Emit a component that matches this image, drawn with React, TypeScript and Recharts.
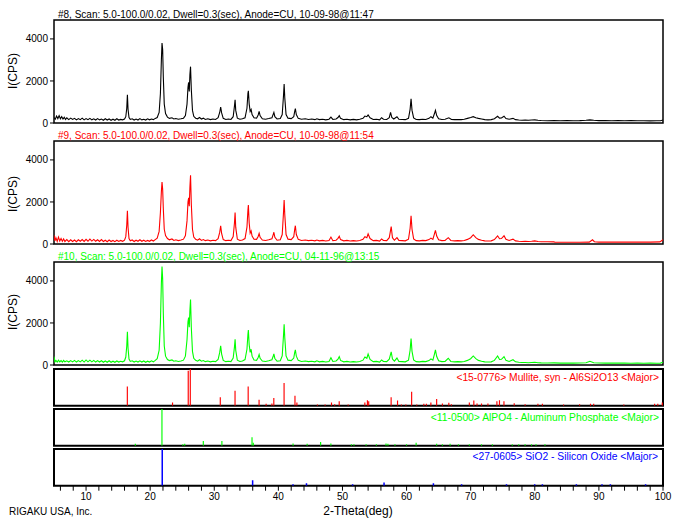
import React from "react";
import { ComposedChart, Line, Bar, XAxis, YAxis, ReferenceArea } from "recharts";

const FONT = '"Liberation Sans", Arial, sans-serif';

// 2-theta range and tick marks along the bottom
const thetaDomain: [number, number] = [5, 100];
const thetaTicks = [
  6, 8, 10, 12, 14, 16, 18, 20, 22, 24, 26, 28, 30, 32, 34, 36, 38, 40, 42, 44, 46, 48, 50,
  52, 54, 56, 58, 60, 62, 64, 66, 68, 70, 72, 74, 76, 78, 80, 82, 84, 86, 88, 90, 92, 94, 96,
  98, 100,
];
const cpsTicks = [0, 2000, 4000];
const cpsMax = 4900;

const titles = [
  "#8, Scan: 5.0-100.0/0.02, Dwell=0.3(sec), Anode=CU, 10-09-98@11:47",
  "#9, Scan: 5.0-100.0/0.02, Dwell=0.3(sec), Anode=CU, 10-09-98@11:54",
  "#10, Scan: 5.0-100.0/0.02, Dwell=0.3(sec), Anode=CU, 04-11-96@13:15",
];
const refLabels = [
  "<15-0776> Mullite, syn - Al6Si2O13 <Major>",
  "<11-0500> AlPO4 - Aluminum Phosphate <Major>",
  "<27-0605> SiO2 - Silicon Oxide <Major>",
];

// scan #8 (black): [2-theta, cps]
const scan8: [number, number][] = [
  [5.0, 260], [5.2, 180], [5.4, 330], [5.6, 210], [5.8, 350], [6.0, 200], [6.2, 300], [6.4, 190],
  [6.6, 270], [6.8, 170], [7.0, 250], [7.3, 160], [7.6, 230], [7.9, 170], [8.2, 220], [8.5, 150],
  [8.8, 210], [9.1, 160], [9.4, 230], [9.7, 150], [10.0, 210], [10.3, 160], [10.6, 220], [10.9, 150],
  [11.2, 200], [11.5, 140], [11.8, 210], [12.1, 150], [12.4, 190], [12.7, 130], [13.0, 200], [13.3, 140],
  [13.6, 190], [13.9, 130], [14.2, 180], [14.5, 130], [14.8, 200], [15.1, 140], [15.4, 170], [15.7, 150],
  [16.0, 190], [16.2, 300], [16.35, 700], [16.45, 1340], [16.55, 650], [16.7, 260], [16.9, 170], [17.2, 200],
  [17.5, 140], [17.8, 190], [18.1, 140], [18.4, 210], [18.7, 150], [19.0, 180], [19.3, 140], [19.6, 200],
  [19.9, 150], [20.2, 190], [20.5, 160], [20.8, 220], [21.1, 260], [21.4, 500], [21.6, 1400], [21.75, 3000],
  [21.85, 3800], [21.95, 3500], [22.05, 2200], [22.2, 900], [22.4, 450], [22.7, 280], [23.0, 220], [23.4, 250],
  [23.7, 190], [24.0, 210], [24.4, 180], [24.8, 200], [25.2, 230], [25.5, 350], [25.75, 900], [25.9, 1700],
  [26.0, 1930], [26.1, 1500], [26.2, 2300], [26.3, 2680], [26.42, 1600], [26.6, 600], [26.8, 320], [27.1, 230],
  [27.4, 200], [27.7, 260], [28.0, 190], [28.3, 230], [28.6, 170], [29.0, 200], [29.4, 160], [29.8, 190],
  [30.2, 170], [30.6, 250], [30.85, 500], [31.0, 760], [31.15, 480], [31.4, 220], [31.8, 170], [32.2, 190],
  [32.6, 170], [32.95, 300], [33.15, 800], [33.25, 1100], [33.35, 600], [33.6, 230], [34.0, 180], [34.4, 200],
  [34.8, 250], [35.1, 700], [35.25, 1400], [35.32, 1530], [35.45, 900], [35.6, 550], [35.75, 640], [35.9, 400],
  [36.2, 250], [36.6, 230], [36.85, 380], [37.0, 550], [37.15, 350], [37.5, 200], [38.0, 180], [38.5, 210],
  [39.0, 250], [39.2, 420], [39.3, 500], [39.45, 300], [39.8, 190], [40.3, 210], [40.6, 400], [40.8, 1300],
  [40.9, 1850], [41.0, 1200], [41.2, 400], [41.5, 230], [42.0, 210], [42.4, 300], [42.55, 550], [42.65, 690],
  [42.8, 400], [43.1, 220], [43.6, 180], [44.2, 200], [44.7, 170], [45.2, 190], [45.7, 160], [46.0, 200],
  [46.4, 160], [46.9, 180], [47.4, 150], [47.9, 180], [48.2, 280], [48.5, 170], [49.0, 190], [49.3, 260],
  [49.5, 350], [49.7, 220], [50.2, 160], [50.7, 180], [51.2, 150], [51.7, 170], [52.2, 150], [52.7, 180],
  [53.2, 220], [53.5, 330], [53.8, 300], [54.0, 380], [54.3, 250], [54.8, 170], [55.3, 180], [55.8, 150],
  [56.1, 250], [56.4, 180], [56.9, 170], [57.3, 250], [57.5, 500], [57.7, 260], [58.0, 190], [58.5, 300],
  [58.8, 180], [59.3, 170], [59.8, 160], [60.3, 220], [60.55, 650], [60.7, 1150], [60.85, 600], [61.1, 240],
  [61.5, 170], [62.0, 160], [62.5, 180], [63.0, 170], [63.5, 220], [63.8, 300], [64.1, 230], [64.35, 450],
  [64.5, 600], [64.7, 350], [65.0, 200], [65.5, 170], [66.0, 180], [66.6, 250], [67.0, 170], [67.5, 160],
  [68.0, 170], [68.5, 160], [69.0, 180], [69.5, 220], [70.0, 260], [70.4, 300], [70.8, 250], [71.2, 220],
  [71.7, 190], [72.2, 160], [72.7, 150], [73.2, 160], [73.7, 200], [74.2, 320], [74.5, 230], [74.8, 240],
  [75.2, 320], [75.5, 210], [76.0, 180], [76.6, 220], [77.0, 160], [77.5, 140], [78.0, 130], [78.5, 140],
  [79.0, 130], [79.5, 140], [80.0, 150], [80.5, 130], [81.0, 120], [82.0, 110], [83.0, 120], [84.0, 110],
  [85.0, 120], [86.0, 110], [87.0, 115], [88.0, 130], [88.6, 150], [89.2, 130], [90.0, 115], [91.0, 120],
  [92.0, 110], [93.0, 120], [94.0, 110], [95.0, 115], [96.0, 105], [97.0, 110], [98.0, 100], [99.0, 105],
  [99.6, 110], [100.0, 140],
];

// scan #9 (red)
const scan9: [number, number][] = [
  [5.0, 420], [5.15, 150], [5.3, 300], [5.5, 120], [5.7, 330], [5.9, 140], [6.1, 260], [6.3, 130],
  [6.5, 240], [6.7, 120], [7.0, 210], [7.3, 110], [7.6, 200], [7.9, 120], [8.2, 190], [8.5, 110],
  [8.8, 200], [9.1, 130], [9.4, 210], [9.7, 120], [10.0, 220], [10.3, 130], [10.6, 230], [10.9, 140],
  [11.2, 220], [11.5, 130], [11.8, 200], [12.1, 120], [12.4, 210], [12.7, 120], [13.0, 180], [13.3, 110],
  [13.6, 190], [13.9, 120], [14.2, 170], [14.5, 110], [14.8, 180], [15.1, 120], [15.4, 170], [15.7, 130],
  [16.0, 180], [16.2, 350], [16.35, 900], [16.45, 1580], [16.55, 800], [16.7, 260], [16.9, 150], [17.2, 190],
  [17.5, 120], [17.8, 180], [18.1, 130], [18.4, 200], [18.7, 130], [19.0, 180], [19.3, 120], [19.6, 170],
  [19.9, 130], [20.2, 190], [20.5, 140], [20.8, 210], [21.1, 280], [21.4, 600], [21.6, 1500], [21.75, 2500],
  [21.85, 2950], [21.95, 2600], [22.05, 1700], [22.2, 700], [22.4, 400], [22.7, 260], [23.0, 200], [23.4, 240],
  [23.7, 170], [24.0, 200], [24.4, 160], [24.8, 190], [25.2, 230], [25.5, 400], [25.75, 1100], [25.9, 2000],
  [26.0, 2200], [26.1, 1800], [26.2, 2700], [26.3, 3270], [26.42, 1900], [26.6, 700], [26.8, 330], [27.1, 220],
  [27.4, 180], [27.7, 250], [28.0, 170], [28.3, 210], [28.6, 160], [29.0, 190], [29.4, 150], [29.8, 180],
  [30.2, 160], [30.6, 250], [30.85, 550], [31.0, 870], [31.15, 500], [31.4, 210], [31.8, 160], [32.2, 180],
  [32.6, 160], [32.95, 350], [33.15, 1000], [33.25, 1500], [33.35, 800], [33.6, 230], [34.0, 170], [34.4, 190],
  [34.8, 260], [35.1, 800], [35.25, 1600], [35.32, 1850], [35.45, 1000], [35.6, 520], [35.75, 620], [35.9, 380],
  [36.2, 230], [36.6, 220], [36.85, 360], [37.0, 500], [37.15, 320], [37.5, 190], [38.0, 170], [38.5, 200],
  [39.0, 250], [39.2, 450], [39.3, 560], [39.45, 320], [39.8, 180], [40.3, 200], [40.6, 450], [40.8, 1500],
  [40.9, 2090], [41.0, 1400], [41.2, 450], [41.5, 230], [42.0, 210], [42.4, 350], [42.55, 700], [42.65, 870],
  [42.8, 450], [43.1, 220], [43.6, 170], [44.2, 190], [44.7, 160], [45.2, 180], [45.7, 150], [46.0, 190],
  [46.4, 150], [46.9, 170], [47.4, 140], [47.9, 170], [48.2, 330], [48.5, 160], [49.0, 180], [49.3, 270],
  [49.5, 370], [49.7, 210], [50.2, 150], [50.7, 170], [51.2, 140], [51.7, 160], [52.2, 140], [52.7, 170],
  [53.2, 220], [53.5, 350], [53.8, 300], [54.0, 480], [54.3, 260], [54.8, 160], [55.3, 170], [55.8, 140],
  [56.1, 240], [56.4, 170], [56.9, 160], [57.3, 300], [57.6, 830], [57.8, 300], [58.1, 180], [58.5, 300],
  [58.8, 170], [59.3, 160], [59.8, 150], [60.3, 230], [60.55, 750], [60.7, 1340], [60.85, 700], [61.1, 240],
  [61.5, 160], [62.0, 150], [62.5, 170], [63.0, 160], [63.5, 210], [63.8, 280], [64.1, 220], [64.35, 480],
  [64.5, 650], [64.7, 380], [65.0, 200], [65.5, 160], [66.0, 170], [66.5, 300], [66.9, 170], [67.5, 150],
  [68.0, 160], [68.5, 150], [69.0, 170], [69.5, 220], [70.0, 300], [70.4, 440], [70.8, 300], [71.2, 220],
  [71.7, 180], [72.2, 150], [72.7, 140], [73.2, 150], [73.7, 210], [74.2, 390], [74.5, 250], [74.8, 260],
  [75.2, 390], [75.5, 220], [76.0, 170], [76.6, 230], [77.0, 150], [77.5, 130], [78.0, 120], [78.5, 130],
  [79.0, 120], [79.5, 130], [80.0, 150], [80.5, 120], [81.0, 110], [82.0, 105], [83.0, 100], [83.1, 80],
  [85.0, 80], [87.0, 80], [88.5, 90], [89.0, 200], [89.3, 110], [90.0, 90], [92.0, 90], [94.0, 90],
  [96.0, 90], [98.0, 90], [99.5, 100], [100.0, 200],
];

// scan #10 (green)
const scan10: [number, number][] = [
  [5.0, 400], [5.15, 150], [5.3, 220], [5.5, 140], [5.7, 230], [5.9, 150], [6.1, 210], [6.3, 140],
  [6.5, 220], [6.7, 150], [7.0, 200], [7.3, 140], [7.6, 210], [7.9, 150], [8.2, 220], [8.5, 140],
  [8.8, 210], [9.1, 150], [9.4, 230], [9.7, 140], [10.0, 240], [10.3, 150], [10.6, 230], [10.9, 150],
  [11.2, 220], [11.5, 140], [11.8, 210], [12.1, 140], [12.4, 200], [12.7, 130], [13.0, 190], [13.3, 130],
  [13.6, 200], [13.9, 130], [14.2, 180], [14.5, 130], [14.8, 190], [15.1, 140], [15.4, 180], [15.7, 150],
  [16.0, 200], [16.2, 380], [16.35, 900], [16.45, 1580], [16.55, 800], [16.7, 280], [16.9, 170], [17.2, 200],
  [17.5, 140], [17.8, 190], [18.1, 140], [18.4, 200], [18.7, 140], [19.0, 190], [19.3, 130], [19.6, 180],
  [19.9, 140], [20.2, 200], [20.5, 150], [20.8, 220], [21.1, 300], [21.4, 700], [21.6, 2000], [21.75, 3900],
  [21.85, 4690], [21.95, 4100], [22.05, 2500], [22.2, 900], [22.4, 420], [22.7, 260], [23.0, 210], [23.4, 240],
  [23.7, 180], [24.0, 200], [24.4, 170], [24.8, 190], [25.2, 230], [25.5, 420], [25.75, 1200], [25.9, 2050],
  [26.0, 2260], [26.1, 1800], [26.2, 2600], [26.3, 3110], [26.42, 1800], [26.6, 650], [26.8, 320], [27.1, 220],
  [27.4, 180], [27.7, 250], [28.0, 180], [28.3, 210], [28.6, 160], [29.0, 190], [29.4, 150], [29.8, 180],
  [30.2, 160], [30.6, 260], [30.85, 600], [31.0, 917], [31.15, 520], [31.4, 220], [31.8, 160], [32.2, 180],
  [32.6, 160], [32.95, 330], [33.15, 850], [33.25, 1220], [33.35, 700], [33.6, 230], [34.0, 170], [34.4, 190],
  [34.8, 260], [35.1, 750], [35.25, 1450], [35.32, 1660], [35.45, 950], [35.6, 600], [35.75, 750], [35.9, 420],
  [36.2, 240], [36.6, 220], [36.85, 360], [37.0, 500], [37.15, 320], [37.5, 190], [38.0, 170], [38.5, 200],
  [39.0, 250], [39.2, 430], [39.3, 530], [39.45, 310], [39.8, 180], [40.3, 200], [40.6, 430], [40.8, 1400],
  [40.9, 1940], [41.0, 1300], [41.2, 430], [41.5, 230], [42.0, 210], [42.4, 330], [42.55, 600], [42.65, 720],
  [42.8, 420], [43.1, 220], [43.6, 170], [44.2, 190], [44.7, 160], [45.2, 180], [45.7, 150], [46.0, 200],
  [46.4, 150], [46.9, 170], [47.4, 140], [47.9, 170], [48.2, 350], [48.5, 170], [49.0, 190], [49.3, 280],
  [49.5, 400], [49.7, 220], [50.2, 150], [50.7, 170], [51.2, 140], [51.7, 160], [52.2, 140], [52.7, 170],
  [53.2, 230], [53.5, 380], [53.8, 320], [54.0, 520], [54.3, 270], [54.8, 160], [55.3, 170], [55.8, 140],
  [56.1, 240], [56.4, 170], [56.9, 160], [57.3, 280], [57.6, 620], [57.8, 280], [58.1, 180], [58.5, 330],
  [58.8, 170], [59.3, 160], [59.8, 150], [60.3, 230], [60.55, 700], [60.7, 1260], [60.85, 650], [61.1, 240],
  [61.5, 160], [62.0, 150], [62.5, 170], [63.0, 160], [63.5, 210], [63.8, 290], [64.1, 230], [64.35, 520],
  [64.5, 720], [64.7, 400], [65.0, 200], [65.5, 160], [66.0, 170], [66.5, 320], [66.9, 170], [67.5, 150],
  [68.0, 160], [68.5, 150], [69.0, 170], [69.5, 220], [70.0, 300], [70.4, 430], [70.8, 300], [71.2, 220],
  [71.7, 180], [72.2, 150], [72.7, 140], [73.2, 150], [73.7, 220], [74.2, 430], [74.5, 260], [74.8, 270],
  [75.2, 400], [75.5, 220], [76.0, 170], [76.6, 250], [77.0, 150], [77.5, 130], [78.0, 120], [78.5, 120],
  [79.0, 110], [79.5, 120], [80.0, 130], [80.5, 110], [81.0, 100], [82.0, 95], [83.0, 100], [84.0, 90],
  [85.0, 95], [86.0, 90], [87.0, 95], [88.0, 110], [88.6, 180], [89.2, 110], [90.0, 95], [91.0, 90],
  [92.0, 95], [93.0, 90], [94.0, 90], [95.0, 85], [96.0, 90], [97.0, 85], [98.0, 90], [99.0, 85],
  [99.6, 90], [100.0, 130],
];

// reference stick patterns: [2-theta, relative intensity]
const mullite: [number, number][] = [
  [16.45, 52], [23.5, 9], [25.95, 95], [26.27, 100], [30.95, 23], [33.25, 41], [35.3, 52], [37.0, 16],
  [38.1, 5], [39.0, 6], [39.3, 21], [40.9, 62], [42.6, 27], [42.9, 9], [46.1, 3], [47.3, 3],
  [48.3, 9], [48.8, 4], [49.5, 12], [50.9, 3], [53.5, 9], [53.9, 15], [54.1, 12], [57.6, 23],
  [58.6, 14], [59.2, 3], [59.9, 3], [60.8, 38], [61.6, 3], [62.7, 5], [63.1, 5], [63.8, 9],
  [64.7, 18], [65.6, 6], [66.6, 8], [67.0, 4], [69.8, 9], [70.5, 14], [71.0, 6], [71.7, 6],
  [72.7, 6], [74.1, 12], [74.5, 15], [75.2, 12], [76.8, 7], [78.5, 4], [80.5, 5], [81.2, 5],
  [84.5, 3], [87.0, 4], [88.7, 5], [89.2, 5], [93.9, 3], [98.7, 5], [99.2, 5], [99.9, 9],
];
const alpo4: [number, number][] = [
  [17.7, 5], [21.85, 100], [25.1, 4], [25.4, 5], [28.3, 13], [31.2, 13], [35.9, 23], [36.1, 8],
  [42.3, 6], [44.5, 5], [46.6, 10], [48.2, 6], [51.4, 4], [51.8, 4], [53.7, 4], [55.3, 4],
  [56.8, 6], [57.1, 5], [58.2, 4], [60.0, 4], [61.5, 8], [64.7, 5], [65.6, 4], [66.8, 5],
  [68.1, 4], [69.8, 4], [71.7, 4], [73.4, 4], [76.5, 4], [77.5, 4], [78.5, 4], [79.5, 4],
  [80.2, 4], [81.6, 4],
];
const sio2: [number, number][] = [
  [21.9, 100], [36.0, 15], [42.3, 4], [44.4, 7], [51.6, 4], [56.5, 9], [64.2, 7], [68.6, 4],
  [75.6, 4], [80.0, 4], [81.2, 4], [86.5, 4], [90.5, 4], [91.8, 4], [97.3, 4],
];

const tickStyle = { fontSize: 10, fill: "#000", fontFamily: FONT };

function ScanPanel({ top, data, color }: { top: number; data: [number, number][]; color: string }) {
  const rows = data.map(([x, y]) => ({ x, y }));
  return (
    <div style={{ position: "absolute", left: 0, top, width: 686, height: 120 }}>
      <ComposedChart
        width={686}
        height={120}
        data={rows}
        margin={{ top: 10, right: 23, bottom: 7, left: 0 }}
      >
        <XAxis type="number" dataKey="x" domain={thetaDomain} allowDataOverflow hide />
        <YAxis
          type="number"
          domain={[0, cpsMax]}
          ticks={cpsTicks}
          interval={0}
          width={54}
          tickSize={4}
          axisLine={false}
          tickLine={{ stroke: "#000" }}
          tick={tickStyle}
          allowDataOverflow
        />
        <ReferenceArea
          x1={thetaDomain[0]}
          x2={thetaDomain[1]}
          y1={0}
          y2={cpsMax}
          fill="none"
          stroke="#000"
          strokeWidth={1.5}
          ifOverflow="visible"
        />
        <Line
          dataKey="y"
          type="linear"
          stroke={color}
          strokeWidth={1.1}
          dot={false}
          isAnimationActive={false}
        />
      </ComposedChart>
    </div>
  );
}

function StickPanel({
  top,
  data,
  color,
  withAxis,
}: {
  top: number;
  data: [number, number][];
  color: string;
  withAxis?: boolean;
}) {
  const rows = data.map(([x, h]) => ({ x, h }));
  const height = withAxis ? 72 : 41;
  return (
    <div style={{ position: "absolute", left: 0, top, width: 686, height }}>
      <ComposedChart
        width={686}
        height={height}
        data={rows}
        margin={{ top: 2, right: 23, bottom: withAxis ? 0 : 2.3, left: 54 }}
      >
        <XAxis
          type="number"
          dataKey="x"
          domain={thetaDomain}
          allowDataOverflow
          hide={!withAxis}
          ticks={thetaTicks}
          interval={0}
          height={33.3}
          tickSize={5}
          axisLine={false}
          tickLine={{ stroke: "#000" }}
          tick={tickStyle}
          tickFormatter={(v: number) => (v % 10 === 0 ? String(v) : "")}
        />
        <YAxis type="number" domain={[0, 100]} hide allowDataOverflow />
        <ReferenceArea
          x1={thetaDomain[0]}
          x2={thetaDomain[1]}
          y1={0}
          y2={100}
          fill="none"
          stroke="#000"
          strokeWidth={2}
          ifOverflow="visible"
        />
        <Bar dataKey="h" fill={color} barSize={1.5} isAnimationActive={false} />
      </ComposedChart>
    </div>
  );
}

export default function App() {
  return (
    <div
      style={{
        position: "absolute",
        left: 0,
        top: 0,
        width: 686,
        height: 519,
        background: "#fff",
        fontFamily: FONT,
      }}
    >
      <ScanPanel top={10} data={scan8} color="#000000" />
      <ScanPanel top={131} data={scan9} color="#ff0000" />
      <ScanPanel top={252} data={scan10} color="#00ff00" />
      <StickPanel top={366.5} data={mullite} color="#ff0000" />
      <StickPanel top={407} data={alpo4} color="#00ff00" />
      <StickPanel top={447} data={sio2} color="#0000ff" withAxis />
      <svg
        width={686}
        height={519}
        style={{ position: "absolute", left: 0, top: 0, pointerEvents: "none" }}
        fontFamily={FONT}
      >
        <text x={58} y={17.5} fontSize={10} fill="#000">{titles[0]}</text>
        <text x={58} y={139} fontSize={10} fill="#ff0000">{titles[1]}</text>
        <text x={58} y={259.5} fontSize={10} fill="#00ff00">{titles[2]}</text>
        {[71, 194, 312].map((cy) => (
          <text
            key={cy}
            x={17}
            y={cy}
            fontSize={12}
            fill="#000"
            textAnchor="middle"
            transform={`rotate(-90 17 ${cy})`}
          >
            I(CPS)
          </text>
        ))}
        <text x={659} y={381} fontSize={10.3} fill="#ff0000" textAnchor="end">{refLabels[0]}</text>
        <text x={659} y={421} fontSize={10.3} fill="#00ff00" textAnchor="end">{refLabels[1]}</text>
        <text x={658} y={460} fontSize={10.3} fill="#0000ff" textAnchor="end">{refLabels[2]}</text>
        <text x={358} y={515} fontSize={12} fill="#000" textAnchor="middle">2-Theta(deg)</text>
        <text x={9} y={515} fontSize={10} fill="#000">RIGAKU USA, Inc.</text>
      </svg>
    </div>
  );
}
